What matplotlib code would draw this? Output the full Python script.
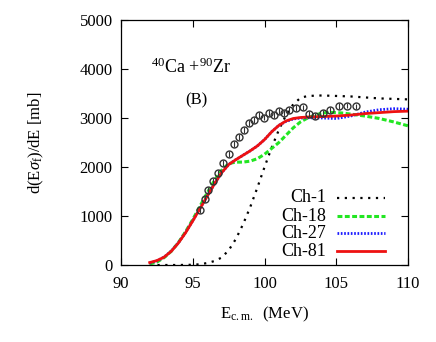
import matplotlib
matplotlib.use("Agg")
import matplotlib.pyplot as plt
from matplotlib.lines import Line2D
import numpy as np

plt.rcParams['font.family'] = ['Liberation Serif', 'DejaVu Serif']
plt.rcParams['mathtext.fontset'] = 'custom'
plt.rcParams['mathtext.rm'] = 'Liberation Serif'
plt.rcParams['mathtext.it'] = 'Liberation Serif:italic'

# experimental data
exp_E = [95.53, 95.82, 96.05, 96.4, 96.75, 97.1, 97.5, 97.87, 98.25, 98.57, 98.94, 99.27,
         99.64, 99.97, 100.34, 100.66, 101.03, 101.36, 101.73, 102.2, 102.66, 103.12, 103.52,
         104.06, 104.56, 105.21, 105.77, 106.38]
exp_Y = [1120, 1350, 1530, 1710, 1880, 2080, 2260, 2470, 2620, 2750, 2890, 2960,
         3060, 3010, 3110, 3060, 3150, 3095, 3165, 3200, 3215, 3085, 3050,
         3110, 3160, 3250, 3255, 3235]
exp_err = [60] * len(exp_E)

# Ch-1
ch1_E = [92, 93, 94, 95, 95.5, 96, 96.5, 97, 97.5, 98, 98.5, 99, 99.5, 100, 100.5, 101,
         101.5, 102, 102.5, 103, 104, 105, 106, 107, 108, 109, 110]
ch1_Y = [0, 0, 0, 5, 15, 40, 80, 150, 300, 530, 830, 1180, 1580, 2000, 2400, 2760,
         3060, 3280, 3410, 3450, 3460, 3450, 3440, 3420, 3400, 3390, 3380]

# Ch-18
ch18_E = [92, 92.5, 93, 93.5, 94, 94.5, 95, 95.5, 96, 96.5, 97, 97.5, 98, 98.5, 99, 99.5,
          100, 100.5, 101, 101.5, 102, 102.5, 103, 103.5, 104, 104.5, 105, 105.5, 106,
          107, 108, 109, 110]
ch18_Y = [20, 60, 150, 280, 460, 680, 930, 1200, 1470, 1720, 1930, 2070, 2100, 2100, 2120,
          2170, 2260, 2380, 2500, 2650, 2800, 2920, 3000, 3060, 3100, 3115, 3110, 3100,
          3080, 3040, 2990, 2920, 2840]

# Ch-27
ch27_E = [92, 92.5, 93, 93.5, 94, 94.5, 95, 95.5, 96, 96.5, 97, 97.5, 98, 98.5, 99, 99.5,
          100, 100.5, 101, 101.5, 102, 102.5, 103, 104, 105, 106, 107, 108, 109, 110]
ch27_Y = [40, 85, 160, 285, 455, 665, 905, 1155, 1405, 1650, 1880, 2050, 2150, 2240, 2330,
          2430, 2560, 2720, 2850, 2930, 2980, 3000, 3005, 3000, 2990, 3040, 3120, 3170,
          3190, 3180]

# Ch-81
ch81_E = [92, 92.5, 93, 93.5, 94, 94.5, 95, 95.5, 96, 96.5, 97, 97.5, 98, 98.5, 99, 99.5,
          100, 100.5, 101, 101.5, 102, 102.5, 103, 104, 105, 106, 107, 108, 109, 110]
ch81_Y = [50, 90, 160, 280, 450, 660, 900, 1150, 1400, 1650, 1880, 2050, 2150, 2240, 2330,
          2430, 2560, 2720, 2850, 2940, 2990, 3010, 3020, 3030, 3040, 3060, 3090, 3110,
          3130, 3140]

labels = ['Ch-1', 'Ch-18', 'Ch-27', 'Ch-81']

fig = plt.figure(figsize=(4.36, 3.42), dpi=100)
ax = fig.add_axes([0.2775, 0.2251, 0.6585, 0.7164])

styles = [
    dict(color='black', lw=1.6, ls=(0, (1, 2.5))),
    dict(color='#22e622', lw=2.2, ls=(0, (1.6, 0.8))),
    dict(color='#1a1aff', lw=2.0, ls=(0, (0.6, 0.6))),
    dict(color='#ee1111', lw=2.0, ls='-'),
]
series = [(ch1_E, ch1_Y), (ch18_E, ch18_Y), (ch27_E, ch27_Y), (ch81_E, ch81_Y)]
for (e, y), st in zip(series, styles):
    ax.plot(e, y, **st)

ax.errorbar(exp_E, exp_Y, yerr=exp_err, fmt='o', ms=5, mfc='none', mec='#333333',
            mew=1.0, ecolor='#333333', elinewidth=0.8, capsize=0, zorder=5)

ax.set_xlim(90, 110)
ax.set_ylim(0, 5000)
ax.set_xticks([90, 95, 100, 105, 110])
ax.set_yticks([0, 1000, 2000, 3000, 4000, 5000])
ax.tick_params(direction='in', top=True, right=True, labelsize=12, length=5, width=0.8)
ax.tick_params(axis='x', pad=8)
ax.tick_params(axis='y', pad=6)
for s in ax.spines.values():
    s.set_linewidth(0.9)

ax.set_xlabel(r'E$_{\rm c.m.}$  (MeV)', fontsize=12, labelpad=9)
ax.set_ylabel(r'd(E$\sigma_{\rm f}$)/dE [mb]', fontsize=12, labelpad=24)

ax.text(0.105, 0.785, r'$^{40}$Ca +$^{90}$Zr', transform=ax.transAxes, fontsize=13,
        ha='left', va='baseline')
ax.text(0.225, 0.655, '(B)', transform=ax.transAxes, fontsize=12, ha='left',
        va='baseline')

# legend (right-aligned labels, sample on right)
leg_y = [0.274, 0.2, 0.13, 0.056]
for lab, st, yy in zip(labels, styles, leg_y):
    ax.text(0.715, yy, lab, transform=ax.transAxes, fontsize=13, ha='right',
            va='center')
    ax.add_line(Line2D([0.754, 0.92], [yy, yy], transform=ax.transAxes, **st))

fig.savefig('out.png', dpi=100)
